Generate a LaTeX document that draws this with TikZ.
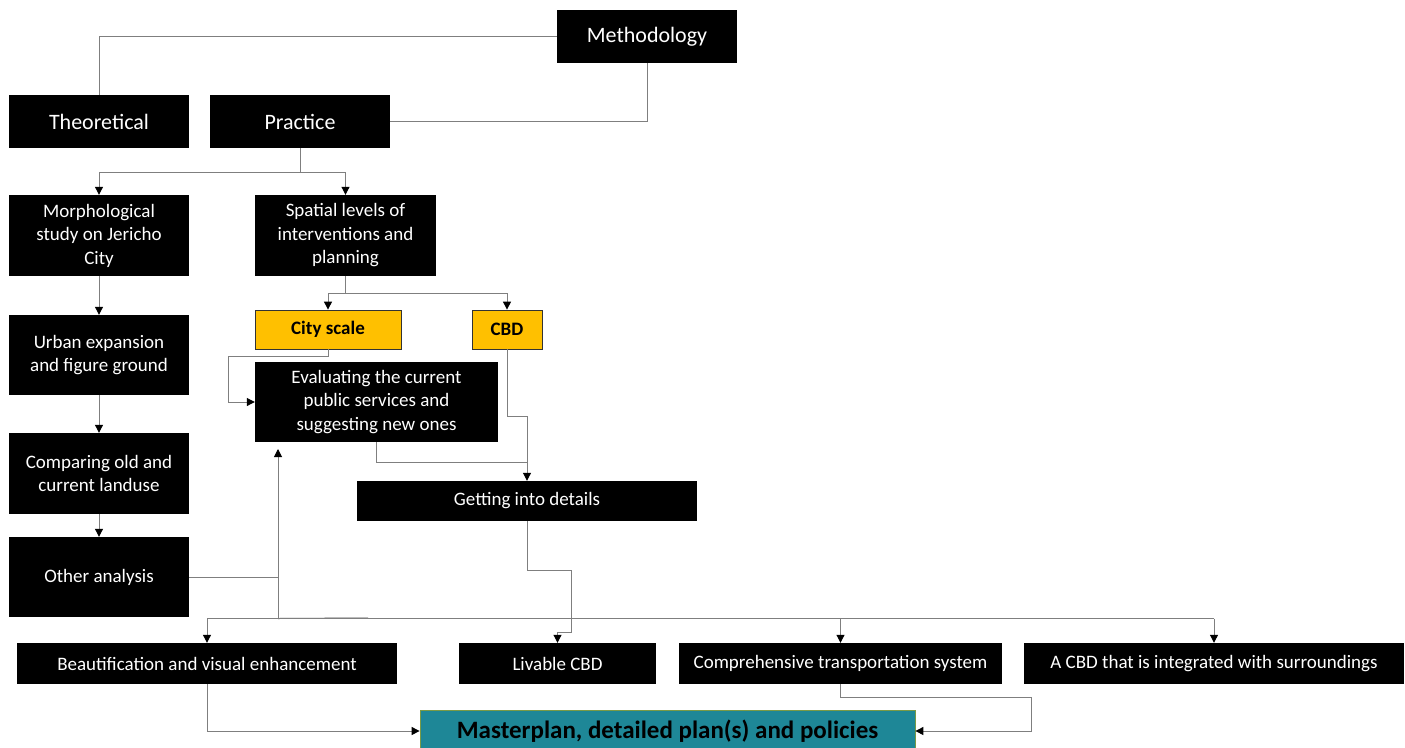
\documentclass[tikz,border=0pt]{standalone}
\usepackage{fontspec}
\setmainfont{Carlito}
\usetikzlibrary{arrows.meta}
\definecolor{ylw}{HTML}{FFC000}
\definecolor{teal2}{HTML}{1E8797}
\definecolor{olive2}{HTML}{7A9A45}
\definecolor{lgray}{HTML}{7F7F7F}
\begin{document}
\begin{tikzpicture}[x=1pt,y=-1pt,
  blk/.style={fill=black,text=white,align=center,inner sep=1pt,font=\fontsize{19}{23.5}\selectfont},
  big/.style={blk,font=\fontsize{22}{26}\selectfont},
  yel/.style={fill=ylw,draw=black!80,line width=0.8pt,text=black,align=center,inner sep=1pt,font=\fontsize{19}{23}\selectfont\bfseries},
  mst/.style={fill=teal2,draw=olive2,line width=0.8pt,text=black,align=center,inner sep=1pt,font=\fontsize{25}{29}\selectfont\bfseries},
  ln/.style={draw=lgray,line width=1pt},
  arr/.style={ln,-{Triangle[length=8pt,width=8pt,color=black]}}
]
\clip (0,0) rectangle (1405,747);
\useasboundingbox (0,0) rectangle (1405,747);
\fill[white] (0,0) rectangle (1405,747);

% nodes
\node[big,minimum width=180pt,minimum height=53pt] (meth) at (647,36.5) {Methodology};
\node[big,minimum width=180pt,minimum height=53pt] (theo) at (99,121.5) {Theoretical};
\node[big,minimum width=180pt,minimum height=53pt] (prac) at (300,121.5) {Practice};
\node[blk,minimum width=180pt,minimum height=81pt] (morph) at (99,235.5) {Morphological\\study on Jericho\\City};
\node[blk,minimum width=181pt,minimum height=81pt] (spat) at (345.5,235.5) {Spatial levels of\\interventions and\\planning};
\node[yel,minimum width=146pt,minimum height=39pt] (city) at (328,329.5) {City scale};
\node[yel,minimum width=70pt,minimum height=39pt] (cbd) at (507,329.5) {CBD};
\node[blk,minimum width=243pt,minimum height=80pt] (eval) at (376.5,402) {Evaluating the current\\public services and\\suggesting new ones};
\node[blk,minimum width=180pt,minimum height=80pt] (urban) at (99,355) {Urban expansion\\and figure ground};
\node[blk,minimum width=180pt,minimum height=81pt] (comp) at (99,473.5) {Comparing old and\\current landuse};
\node[blk,minimum width=180pt,minimum height=80pt] (other) at (99,577) {Other analysis};
\node[blk,minimum width=340pt,minimum height=40pt] (det) at (527,501) {Getting into details};
\node[blk,minimum width=380pt,minimum height=41pt] (beau) at (207,663.5) {Beautification and visual enhancement};
\node[blk,minimum width=197pt,minimum height=41pt] (liv) at (557.5,663.5) {Livable CBD};
\node[blk,minimum width=323pt,minimum height=41pt] (trans) at (840.5,663.5) {Comprehensive transportation system};
\node[blk,minimum width=380pt,minimum height=41pt] (integ) at (1214,663.5) {A CBD that is integrated with surroundings};
\node[mst,minimum width=495pt,minimum height=42pt] (master) at (667.5,731) {Masterplan, detailed plan(s) and policies};

% coordinates
\coordinate (j1) at (300,172);
\coordinate (j2) at (345.5,293);
\coordinate (c1) at (228,356);
\coordinate (c2) at (527,416);
\coordinate (c3) at (527,462);
\coordinate (o2) at (278,618.5);
\coordinate (o3) at (278,449);
\coordinate (o4) at (368,618);
\coordinate (b0) at (207,618.5);
\coordinate (b1) at (1214,618.5);
\coordinate (d1) at (571,570);
\coordinate (d2) at (571,632);
\coordinate (t1) at (1031,697);

% connectors
\draw[ln] (meth.west) -| (theo.north);
\draw[ln] (meth.south) |- (prac.east);
\draw[ln] (prac.south) -- (j1);
\draw[arr] (j1) -| (morph.north);
\draw[arr] (j1) -| (spat.north);
\draw[ln] (spat.south) -- (j2);
\draw[arr] (j2) -| (city.north);
\draw[arr] (j2) -| (cbd.north);
\draw[arr] (city.south) |- (c1) |- (eval.west);
\draw[arr] (cbd.south) |- (c2) -- (det.north);
\draw[ln] (eval.south) |- (c3);
\draw[arr] (morph.south) -- (urban.north);
\draw[arr] (urban.south) -- (comp.north);
\draw[arr] (comp.south) -- (other.north);
\draw[ln] (other.east) -| (o2);
\draw[arr] (o2) -- (o3);
\draw[ln,draw=black!75] (o2) -- (o4);
\draw[ln] (b0) -- (b1);
\draw[arr] (b0) -- (beau.north);
\draw[arr] (trans.north |- b0) -- (trans.north);
\draw[arr] (b1) -- (integ.north);
\draw[arr] (det.south) |- (d1) -- (d2) -| (liv.north);
\draw[arr] (beau.south) |- (master.west);
\draw[arr] (trans.south) |- (t1) |- (master.east);
\end{tikzpicture}
\end{document}
